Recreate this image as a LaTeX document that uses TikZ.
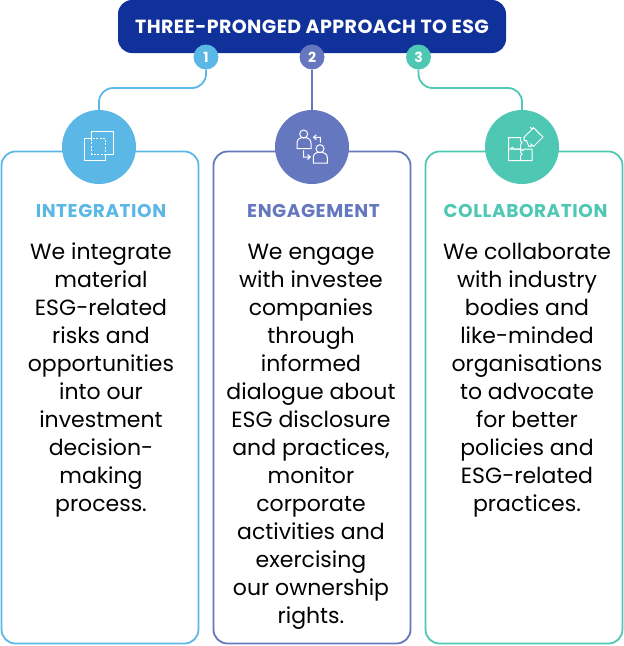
\documentclass[tikz,border=0pt]{standalone}
\usepackage{fontspec}
\setmainfont{Poppins}
\definecolor{navy}{HTML}{10309A}
\definecolor{skyc}{HTML}{5BB8E6}
\definecolor{bluec}{HTML}{6577BF}
\definecolor{tealc}{HTML}{4EC8B3}
\newcommand{\bodyfont}{\fontsize{22}{28}\selectfont}
\begin{document}
\begin{tikzpicture}[x=1pt,y=-1pt]
\tikzset{panel/.style={draw=#1,line width=1.8pt,rounded corners=14pt,minimum width=197pt,minimum height=492pt,inner sep=0pt}}
\tikzset{disc/.style={fill=#1,circle,minimum width=74pt,inner sep=0pt}}
\tikzset{badge/.style={fill=#1,circle,minimum width=25pt,inner sep=0pt,text=white,font=\fontsize{14}{14}\selectfont\bfseries}}
\tikzset{link/.style={draw=#1,line width=1.8pt,rounded corners=14pt}}
\tikzset{heading/.style={text=#1,font=\fontsize{18.5}{20}\selectfont\bfseries\addfontfeature{LetterSpace=3}}}
\tikzset{body/.style={align=center,font=\bodyfont,text=black,inner sep=0pt}}
\tikzset{icon/.style={draw=white,line width=1pt}}
\useasboundingbox (0,0) rectangle (624,646);
\node (panel1) at (100,397.5) [panel=skyc] {};
\node (panel2) at (312,397.5) [panel=bluec] {};
\node (panel3) at (524,397.5) [panel=tealc] {};
\node (title) at (312,26.5) [fill=navy,rounded corners=14pt,minimum width=388pt,minimum height=53pt,inner sep=0pt,text=white,font=\fontsize{19}{20}\selectfont\bfseries\addfontfeature{LetterSpace=2.2}] {THREE-PRONGED APPROACH TO ESG};
\node (badge1) at (206,57) [badge=skyc] {1};
\node (badge2) at (312,57) [badge=bluec] {2};
\node (badge3) at (418.5,57) [badge=tealc] {3};
\node (disc1) at (99,147) [disc=skyc] {};
\node (disc2) at (312,147) [disc=bluec] {};
\node (disc3) at (522,147) [disc=tealc] {};
\coordinate (turn1a) at (206,88);
\coordinate (turn1b) at (99,88);
\coordinate (turn3a) at (418.5,88);
\coordinate (turn3b) at (522,88);
\draw[link=skyc] (badge1.south) -- (turn1a) -- (turn1b) -- (disc1.north);
\draw[link=bluec] (badge2.south) -- (disc2.north);
\draw[link=tealc] (badge3.south) -- (turn3a) -- (turn3b) -- (disc3.north);
% headings
\node (head1) at (101,211) [heading=skyc] {INTEGRATION};
\node (head2) at (313.5,211) [heading=bluec] {ENGAGEMENT};
\node (head3) at (525.5,211) [heading=tealc] {COLLABORATION};
% texts
\node (text1) at (101,242.5) [body,anchor=north] {We integrate\\material\\ESG-related\\risks and\\opportunities\\into our\\investment\\decision-\\making\\process.};
\node (text2) at (311,243.5) [body,anchor=north] {We engage\\with investee\\companies\\through\\informed\\dialogue about\\ESG disclosure\\and practices,\\monitor\\corporate\\activities and\\exercising\\our ownership\\rights.};
\node (text3) at (527,243.5) [body,anchor=north] {We collaborate\\with industry\\bodies and\\like-minded\\organisations\\to advocate\\for better\\policies and\\ESG-related\\practices.};
% icon 1
\draw[icon] (91.5,138.7) -- (91.5,131.7) -- (113.3,131.7) -- (113.3,154) -- (105.7,154) -- (105.7,160.3) -- (84.3,160.3) -- (84.3,138.7) -- cycle;
\draw[icon,dash pattern=on 2pt off 1.5pt] (91.5,138.7) rectangle (105.7,154);
% icon 2
\draw[icon] (303.7,134) circle (4);
\draw[icon] (297,148.5) -- (297,143) .. controls (297,139) and (300,137.5) .. (303.7,137.5) .. controls (307.5,137.5) and (311,139) .. (311,143) -- (311,148.5) -- cycle;
\draw[icon] (320,148.7) circle (4);
\draw[icon] (313.3,163) -- (313.3,157.5) .. controls (313.3,154) and (316,152.2) .. (320,152.2) .. controls (324,152.2) and (327.3,154) .. (327.3,157.5) -- (327.3,163) -- cycle;
\draw[icon] (320.3,142.5) -- (320.3,137.3) -- (313.8,137.3) (316.3,134.8) -- (313.5,137.3) -- (316.3,139.8);
\draw[icon] (303.7,150.3) -- (303.7,157) -- (310,157) (307.5,154.5) -- (310.3,157) -- (307.5,159.5);
% icon 3
\draw[icon] (520.5,149) -- (508.7,149) -- (508.7,137.5) -- (520.5,137.5) -- (520.5,141) arc (-90:90:1.6) -- (520.5,149);
\draw[icon] (508.7,149) -- (508.7,160.7) -- (532,160.7) -- (532,149) -- (524.5,149) arc (0:180:1.7) -- (514,149) arc (0:-180:1.7);
\draw[icon] (520.5,149) -- (520.5,152.5) arc (-90:90:1.6) -- (520.5,160.7);
\draw[icon] (523.7,137.5) -- (533.5,127.7) -- (543,137) -- (533.5,146.5) -- (531,144) arc (-45:135:1.6) -- (526.5,140.5) arc (45:225:1.6) -- cycle;
\draw[icon] (533.5,127.7) arc (10:190:1.6);
\end{tikzpicture}
\end{document}
